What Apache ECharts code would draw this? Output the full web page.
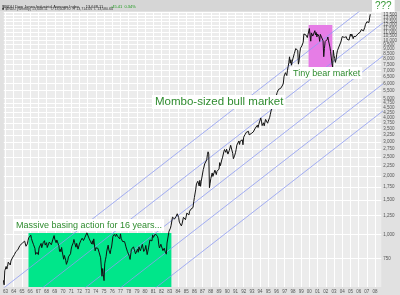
<!DOCTYPE html>
<html><head><meta charset="utf-8">
<script src="https://cdn.jsdelivr.net/npm/echarts@6/dist/echarts.min.js"></script>
<style>html,body{margin:0;padding:0;background:#fff}#c{width:400px;height:295px}</style>
</head><body><div id="c"></div>
<script>
// First monthly close in the series: September 1962
const startYear = 1962, startMonth = 9;
// Dow Jones Industrial Average, monthly (approximate)
const djiaMonthly = [
 579, 549, 649, 652,
 683, 662, 683, 718, 727, 707, 695, 729, 733, 755, 751, 763,
 785, 800, 813, 811, 821, 832, 841, 838, 875, 873, 875, 874,
 903, 903, 889, 922, 918, 868, 882, 893, 931, 960, 947, 969,
 990, 951, 924, 933, 884, 870, 847, 788, 774, 807, 791, 786,
 850, 839, 865, 897, 853, 860, 904, 901, 927, 880, 876, 905,
 855, 840, 840, 912, 899, 898, 883, 896, 936, 952, 985, 944,
 946, 905, 935, 950, 937, 873, 816, 837, 813, 856, 812, 800,
 744, 778, 786, 736, 700, 684, 734, 765, 761, 756, 794, 839,
 869, 879, 904, 941, 907, 891, 858, 898, 887, 839, 831, 890,
 902, 928, 941, 954, 961, 929, 925, 964, 953, 956, 1018, 1020,
 1040, 955, 951, 921, 901, 891, 926, 888, 947, 957, 822, 851,
 856, 861, 847, 837, 802, 802, 757, 679, 608, 666, 619, 577,
 704, 739, 768, 821, 832, 879, 832, 835, 794, 836, 860, 852,
 975, 973, 999, 997, 975, 1003, 985, 974, 991, 965, 947, 1005,
 954, 936, 919, 927, 899, 916, 891, 862, 847, 818, 830, 831,
 770, 742, 757, 837, 841, 819, 862, 877, 866, 793, 799, 805,
 839, 808, 862, 854, 822, 842, 846, 888, 878, 816, 822, 839,
 876, 863, 786, 817, 851, 868, 935, 933, 932, 925, 993, 964,
 948, 975, 1004, 998, 992, 977, 952, 882, 850, 853, 889, 875,
 872, 824, 823, 848, 820, 812, 790, 901, 896, 992, 1039, 1047,
 1076, 1113, 1130, 1226, 1200, 1222, 1199, 1216, 1233, 1225, 1276, 1259,
 1221, 1155, 1165, 1171, 1105, 1132, 1115, 1224, 1207, 1207, 1189, 1212,
 1287, 1284, 1267, 1258, 1315, 1336, 1348, 1334, 1329, 1374, 1472, 1547,
 1571, 1709, 1819, 1784, 1877, 1893, 1775, 1898, 1768, 1878, 1914, 1896,
 2158, 2224, 2305, 2286, 2292, 2419, 2572, 2663, 2596, 1739, 1834, 1939,
 1958, 2072, 1988, 2032, 2031, 2142, 2129, 2032, 2113, 2149, 2115, 2169,
 2342, 2258, 2294, 2419, 2480, 2440, 2661, 2737, 2693, 2645, 2748, 2753,
 2591, 2627, 2707, 2657, 2877, 2881, 2905, 2614, 2453, 2442, 2560, 2634,
 2736, 2882, 2914, 2888, 3028, 2907, 3025, 3044, 3017, 3069, 2895, 3169,
 3223, 3267, 3236, 3359, 3397, 3319, 3394, 3257, 3272, 3226, 3306, 3301,
 3310, 3370, 3436, 3428, 3527, 3516, 3540, 3651, 3555, 3681, 3684, 3754,
 3978, 3832, 3636, 3682, 3758, 3625, 3765, 3913, 3843, 3908, 3739, 3834,
 3844, 4011, 4158, 4321, 4465, 4556, 4709, 4650, 4789, 4756, 5075, 5117,
 5395, 5486, 5588, 5569, 5643, 5655, 5529, 5616, 5882, 6029, 6522, 6448,
 6813, 6878, 6584, 7009, 7331, 7673, 8223, 7622, 7945, 7442, 7823, 7908,
 7907, 8546, 8800, 9063, 8900, 8952, 8883, 7539, 7843, 8592, 9117, 9181,
 9359, 9307, 9786, 10789, 10560, 10971, 10655, 10829, 10337, 10730, 10878, 11497,
 11650, 9900, 10922, 10734, 10522, 10448, 10522, 11215, 10651, 10971, 10415, 10788,
 10887, 10495, 9879, 10735, 10912, 10502, 10523, 9950, 8235, 9075, 9852, 10022,
 9920, 10106, 10404, 9946, 9925, 9243, 8737, 8664, 7592, 7286, 8896, 8342,
 8054, 7700, 7992, 8480, 8850, 8985, 9234, 9416, 9275, 9801, 9782, 10454,
 10488, 10584, 10358, 10226, 10188, 10435, 10140, 10174, 10080, 10027, 10428, 10783,
 10490, 10766, 10504, 10193, 10467, 10275, 10641, 10482, 10569, 10440, 10806, 10718,
 10865, 10993, 11109, 11367, 11168, 11150, 11186, 11381, 11679, 12081, 12222, 12463,
 12622, 12269, 12354, 13063, 13628
];
const yearTicks = [1963,1964,1965,1966,1967,1968,1969,1970,1971,1972,1973,1974,1975,1976,1977,1978,1979,1980,1981,1982,1983,1984,1985,1986,1987,1988,1989,1990,1991,1992,1993,1994,1995,1996,1997,1998,1999,2000,2001,2002,2003,2004,2005,2006,2007,2008];
const priceTicks = [750,1000,1250,1500,1750,2000,2250,2500,2750,3000,3250,3500,3750,4000,4250,4500,4750,5000,5500,6000,6500,7000,7500,8000,8500,9000,9500,10000,10500,11000,11500,12000,12500,13000,13500,14000];
// Trend channel lines: value at start year and end year
const channelYears = [1955, 2012];
const channelStart = [293, 205, 138, 100, 72];
const channelEnd = [22100, 15500, 10470, 7510, 5450];
// Annotated boxes: [yearFrom, yearTo, valueLow, valueHigh]
const basingBox = [1965.8, 1983.2, 535, 1016];
const bearBox = [1999.9, 2002.8, 7291, 12006];

const priceData = djiaMonthly.map((v, i) => [startYear + (startMonth + i) / 12, v]);
const fmt = v => Math.round(v).toLocaleString('en-US');
const green = '#2f8c2f';

const series = [
  {
    type: 'line', data: [], z: 1, silent: true,
    markArea: { silent: true, data: [
      [{ xAxis: basingBox[0], yAxis: basingBox[2], itemStyle: { color: '#00e68a', opacity: 1 } }, { xAxis: basingBox[1], yAxis: basingBox[3] }],
      [{ xAxis: bearBox[0], yAxis: bearBox[2], itemStyle: { color: '#e67de6', opacity: 1 } }, { xAxis: bearBox[1], yAxis: bearBox[3] }]
    ] }
  }
];
channelStart.forEach((s, i) => {
  series.push({ type: 'line', z: 2, silent: true, showSymbol: false, clip: true,
    data: [[channelYears[0], s], [channelYears[1], channelEnd[i]]],
    lineStyle: { color: '#8e9cf2', width: 0.8 } });
});
series.push({ type: 'line', z: 5, silent: true, showSymbol: false, clip: true, data: priceData,
  lineStyle: { color: '#111', width: 1 } });

const chart = echarts.init(document.getElementById('c'), null, { renderer: 'canvas' });
chart.setOption({
  animation: false,
  backgroundColor: '#e1e1e1',
  grid: { left: 0, right: 15, top: 12, bottom: 8, show: true, backgroundColor: '#ececec', borderWidth: 0 },
  xAxis: {
    type: 'value', min: 1962.8, max: 2008.75,
    axisLine: { show: false },
    axisTick: { show: false, customValues: yearTicks },
    axisLabel: { customValues: yearTicks, interval: 0, hideOverlap: false, fontSize: 4.5, color: '#555', margin: 2,
      fontFamily: 'Liberation Sans', formatter: v => String(Math.round(v) % 100).padStart(2, '0') },
    splitLine: { show: true, lineStyle: { color: '#ffffff', width: 1 } }
  },
  yAxis: {
    type: 'log', logBase: 10, min: 535, max: 14000, position: 'right',
    axisLine: { show: false },
    axisTick: { show: false, customValues: priceTicks },
    axisLabel: { customValues: priceTicks, fontSize: 4.5, color: '#555', margin: 2, fontFamily: 'Liberation Sans', formatter: fmt },
    splitLine: { show: true, lineStyle: { color: '#ffffff', width: 1 } }
  },
  series: series,
  graphic: [
    { type: 'rect', z: 10, shape: { x: 0, y: 0, width: 400, height: 11 }, style: { fill: '#d6d6d6' } },
    { type: 'text', z: 11, x: 2, y: 0.8, style: { text: '{a|$INDU Dow Jones Industrial Average Index}  {b|13,648.11}  {g|+45.41  0.34%}',
      rich: { a: { fontSize: 4, fill: '#222', fontFamily: 'Liberation Sans' }, b: { fontSize: 4, fill: '#222', fontFamily: 'Liberation Sans' }, g: { fontSize: 4, fill: '#1a9a1a', fontFamily: 'Liberation Sans' } } } },
    { type: 'text', z: 11, x: 2, y: 6.6, style: { text: '\u25A0 $INDU (Weekly) 13,648.11   O 13,602.70  H 13,714.05  L 13,580.64', fontSize: 3.6, fill: '#333', fontFamily: 'Liberation Sans' } },
    { type: 'text', z: 20, x: 13, y: 219, style: { text: 'Massive basing action for 16 years...', fontSize: 9, fontFamily: 'Liberation Sans', fill: green, backgroundColor: '#fff', padding: [2, 2, 1, 3] } },
    { type: 'text', z: 20, x: 152, y: 95, style: { text: 'Mombo-sized bull market', fontSize: 11.5, fontFamily: 'Liberation Sans', fill: green, backgroundColor: '#fff', padding: [1, 2, 1, 3] } },
    { type: 'text', z: 20, x: 290, y: 67, style: { text: 'Tiny bear market', fontSize: 9, fontFamily: 'Liberation Sans', fill: green, backgroundColor: '#fff', padding: [2, 2, 1, 3] } },
    { type: 'text', z: 20, x: 372, y: 0, style: { text: '???', fontSize: 10, fontFamily: 'Liberation Sans', fill: '#3a9a3a', backgroundColor: '#fff', padding: [1, 3, 1, 3] } }
  ]
});
</script></body></html>
